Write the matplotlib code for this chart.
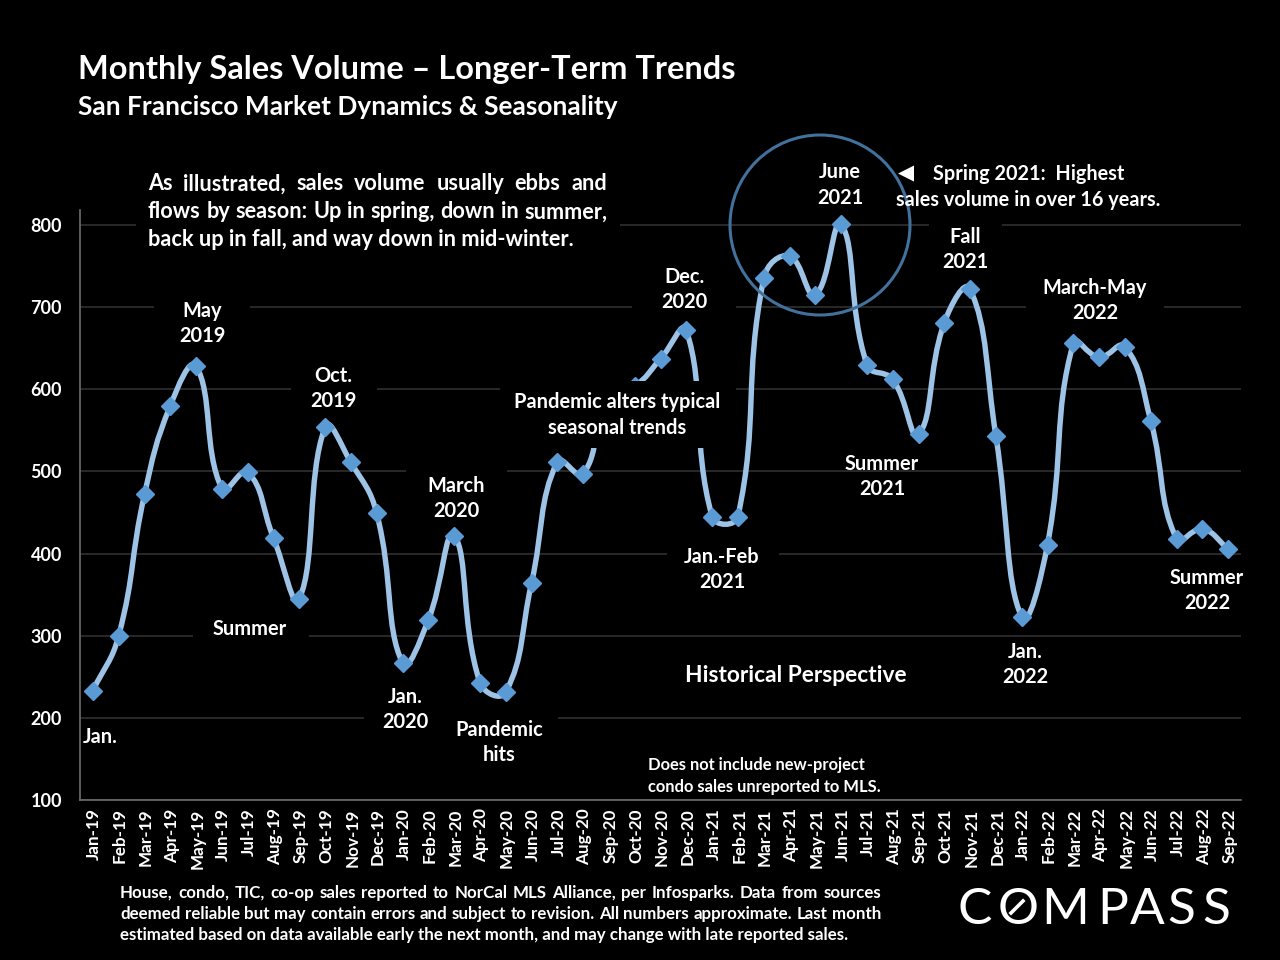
import numpy as np
import matplotlib
matplotlib.use("agg")
import matplotlib.pyplot as plt
from matplotlib.path import Path
from matplotlib.patches import PathPatch, Rectangle, Ellipse
from matplotlib.lines import Line2D
from matplotlib.transforms import ScaledTranslation

months = ["Jan", "Feb", "Mar", "Apr", "May", "Jun", "Jul", "Aug", "Sep", "Oct", "Nov", "Dec"]
labels = [m + "-19" for m in months] + [m + "-20" for m in months] + [m + "-21" for m in months] + [m + "-22" for m in months[:9]]
sales = [233, 300, 472, 580, 628, 479, 499, 419, 345, 554, 511, 449,
         267, 319, 422, 243, 231, 364, 512, 497, 595, 604, 637, 672,
         445, 445, 735, 762, 715, 801, 630, 612, 545, 681, 722, 543,
         323, 411, 656, 639, 652, 562, 418, 430, 406]

W, H = 1280, 960
plt.rcParams["font.family"] = ["Lato", "DejaVu Sans"]
plt.rcParams["font.weight"] = "bold"

fig = plt.figure(figsize=(12.8, 9.6), dpi=100, facecolor="black")
# axes box in pixels: x 80-1241, y 210-800
ax = fig.add_axes([80 / W, 1 - 800 / H, (1241 - 80) / W, (800 - 210) / H], facecolor="black")
ax.set_xlim(-0.5, 44.5)
ax.set_ylim(100, 100 + 590 / (575 / 700))

for s in ["top", "right"]:
    ax.spines[s].set_visible(False)
for s in ["left", "bottom"]:
    ax.spines[s].set_color("#6e6e6e")
    ax.spines[s].set_linewidth(1.2)
ax.set_yticks(range(100, 900, 100))
ax.set_yticklabels([str(v) for v in range(100, 900, 100)], color="white", fontsize=13)
ax.set_xticks(range(len(labels)))
ax.set_xticklabels(labels, rotation=90, color="white", fontsize=12.3)
ax.tick_params(axis="y", length=0, pad=13)
ax.tick_params(axis="x", length=0, pad=6)
shift = ScaledTranslation(1 / 72, 0, fig.dpi_scale_trans)
for t in ax.get_xticklabels():
    t.set_transform(t.get_transform() + shift)
ax.yaxis.grid(True, color="#333333", linewidth=1.1, zorder=1)
ax.set_axisbelow(True)


def px(x, y):
    return x / W, 1 - y / H


def mask(x0, y0, x1, y1, z=1.5):
    fig_x, fig_y = px(x0, y1)
    ax.add_patch(Rectangle((fig_x, fig_y), (x1 - x0) / W, (y1 - y0) / H, transform=fig.transFigure,
                           facecolor="black", edgecolor="none", zorder=z, clip_on=False))


def dist(a, b):
    # segment length on screen
    return np.hypot((a[0] - b[0]) * 25.8, (a[1] - b[1]) * 575 / 700)


# smoothed line through the monthly values, handles weighted by segment length
n = len(sales)
verts = [(0, sales[0])]
codes = [Path.MOVETO]
for i in range(n - 1):
    p0 = np.array([max(i - 1, 0), sales[max(i - 1, 0)]], float)
    p1 = np.array([i, sales[i]], float)
    p2 = np.array([i + 1, sales[i + 1]], float)
    p3 = np.array([min(i + 2, n - 1), sales[min(i + 2, n - 1)]], float)
    d01, d12, d23 = dist(p0, p1), dist(p1, p2), dist(p2, p3)
    c1 = p1 + (p2 - p0) * 0.45 * d12 / (d01 + d12)
    c2 = p2 - (p3 - p1) * 0.45 * d12 / (d12 + d23)
    verts += [tuple(c1), tuple(c2), tuple(p2)]
    codes += [Path.CURVE4] * 3
ax.add_patch(PathPatch(Path(verts, codes), facecolor="none", edgecolor="#9dc3e6", linewidth=3.9, zorder=3,
                       capstyle="round", joinstyle="round"))
ax.plot(range(n), sales, linestyle="none", marker="D", markersize=8.8, color="#5b9bd5", zorder=3.5, clip_on=False)

# black boxes behind labels cut the gridlines
for box in [(136, 165, 620, 250), (154, 297, 250, 345), (291, 365, 377, 410), (406, 465, 507, 525),
            (193, 615, 309, 640), (364, 710, 558, 725), (667, 540, 779, 595), (632, 265, 736, 315),
            (929, 222, 1002, 272), (1026, 280, 1164, 325)]:
    mask(*box)
mask(500, 381, 736, 448, z=4)


def label(x, y, s, size=14.4, ha="center", **kw):
    fx, fy = px(x, y + 2)
    return fig.text(fx, fy, s, fontsize=size, ha=ha, va="center", color="white", zorder=6, **kw)


def justified(x0, x1, y, s, size):
    # place the words one by one so the line fills x0..x1
    words = s.split()
    items = [label(0, y, w, size, ha="left") for w in words]
    r = fig.canvas.get_renderer()
    widths = [t.get_window_extent(r).width for t in items]
    gap = (x1 - x0 - sum(widths)) / (len(words) - 1)
    x = x0
    for t, w in zip(items, widths):
        t.set_x(x / W)
        x += w + gap


label(78, 67, "Monthly Sales Volume \u2013 Longer-Term Trends", 23.4, ha="left")
label(78, 105, "San Francisco Market Dynamics & Seasonality", 18.9, ha="left")

justified(148, 607, 182, "As illustrated, sales volume usually ebbs and", 15.6)
justified(148, 607, 210, "flows by season: Up in spring, down in summer,", 15.6)
label(148, 237, "back up in fall, and way down in mid-winter.", 15.65, ha="left")

for x, y1, y2, a, b in [(202, 309, 334, "May", "2019"), (333, 374, 399, "Oct.", "2019"),
                        (456, 484, 509, "March", "2020"), (405, 695, 720, "Jan.", "2020"),
                        (499, 728, 753, "Pandemic", "hits"), (684, 275, 300, "Dec.", "2020"),
                        (840, 170, 196, "June", "2021"), (965, 235, 260, "Fall", "2021"),
                        (882, 462, 487, "Summer", "2021"), (722, 555, 580, "Jan.-Feb", "2021"),
                        (1095, 286, 311, "March-May", "2022"), (1025, 650, 675, "Jan.", "2022"),
                        (1207, 576, 601, "Summer", "2022"),
                        (617, 400, 426, "Pandemic alters typical", "seasonal trends")]:
    label(x, y1, a)
    label(x, y2, b)
label(100, 735, "Jan.")
label(250, 627, "Summer")
label(796, 674, "Historical Perspective", 16.4)

label(906, 171, "\u25c0", 15)
label(933, 172, "Spring 2021:  Highest", 14.3, ha="left")
label(896, 198, "sales volume in over 16 years.", 14.3, ha="left")

label(648, 763, "Does not include new-project", 11.9, ha="left")
label(648, 785, "condo sales unreported to MLS.", 11.9, ha="left")

justified(120, 881, 891, "House, condo, TIC, co-op sales reported to NorCal MLS Alliance, per Infosparks. Data from sources", 12.2)
justified(120, 881, 912, "deemed reliable but may contain errors and subject to revision. All numbers approximate. Last month", 12.2)
label(120, 933, "estimated based on data available early the next month, and may change with late reported sales.", 12.2, ha="left")

# circle around the spring 2021 peak
cx, cy = px(820, 225)
ax.add_patch(Ellipse((cx, cy), 180 / W, 180 / H, transform=fig.transFigure, facecolor="none",
                     edgecolor="#41719c", linewidth=2.2, zorder=5, clip_on=False))

# logo
for ch, x in zip("COMPASS", [975, 1018, 1065, 1113, 1147, 1181, 1216]):
    label(x, 908, ch, 37, fontweight="normal")
x0, y0 = px(1011, 913)
x1, y1 = px(1023, 901)
fig.add_artist(Line2D([x0, x1], [y0, y1], color="white", linewidth=2.6, zorder=6))

fig.savefig("out.png", dpi=100, facecolor="black")
